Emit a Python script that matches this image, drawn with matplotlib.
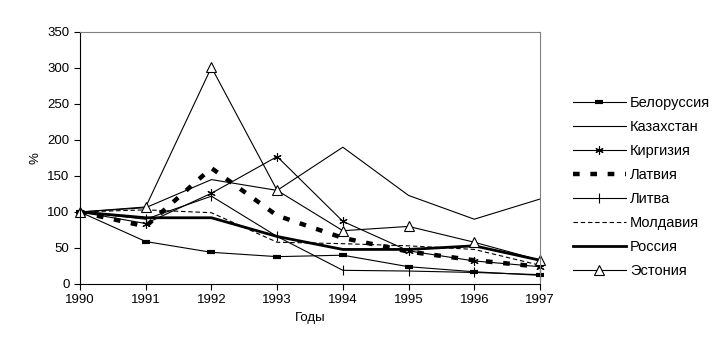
import matplotlib.pyplot as plt

plt.rcParams['font.family'] = ['Liberation Sans', 'DejaVu Sans']

years = [1990, 1991, 1992, 1993, 1994, 1995, 1996, 1997]

belarus = [100, 59, 44, 38, 40, 24, 17, 12]
kazakhstan = [100, 106, 145, 130, 190, 123, 90, 118]
kyrgyzstan = [100, 84, 126, 177, 87, 46, 32, 24]
latvia = [100, 80, 161, 95, 64, 45, 33, 24]
lithuania = [100, 90, 122, 66, 19, 18, 16, 13]
moldova = [100, 103, 99, 58, 56, 53, 48, 26]
russia = [100, 92, 92, 66, 48, 48, 53, 33]
estonia = [100, 107, 301, 130, 74, 80, 58, 33]

fig = plt.figure(figsize=(7.2, 3.62), dpi=100)
ax = fig.add_axes([80/720, 1 - 284/362, 460/720, 252/362])

kw = dict(color='black', clip_on=False)
ax.plot(years, belarus, lw=0.8, marker='_', ms=6, mew=3, label='Белоруссия', **kw)
ax.plot(years, kazakhstan, lw=0.8, label='Казахстан', **kw)
ax.plot(years, kyrgyzstan, lw=0.8, marker=(6, 2, 0), ms=6, mew=0.8, label='Киргизия', **kw)
ax.plot(years, latvia, lw=3.2, linestyle=(0, (1.5, 2.4)), label='Латвия', **kw)
ax.plot(years, lithuania, lw=0.8, marker='|', ms=7, mew=0.8, label='Литва', **kw)
ax.plot(years, moldova, lw=0.8, linestyle=(0, (4, 2.5)), label='Молдавия', **kw)
ax.plot(years, russia, lw=2.0, label='Россия', **kw)
ax.plot(years, estonia, lw=0.8, marker='^', ms=6.5, mew=0.8, mfc='white', label='Эстония', **kw)

ax.set_xlim(1990, 1997)
ax.set_ylim(0, 350)
ax.set_xticks(years)
ax.set_yticks(range(0, 351, 50))
ax.tick_params(direction='out', length=4, labelsize=9.5, width=0.8)
ax.set_xlabel('Годы', fontsize=9.5)
ax.set_ylabel('%', fontsize=9.5)

for s in ['top', 'right']:
    ax.spines[s].set_color('gray')
for s in ['left', 'bottom']:
    ax.spines[s].set_color('black')

fig.legend(loc='center left', bbox_to_anchor=(560/720, 1 - 187/362), frameon=False,
           fontsize=10.5, handlelength=3.6, labelspacing=0.68, handletextpad=0.3)

fig.savefig('out.png', dpi=100)
